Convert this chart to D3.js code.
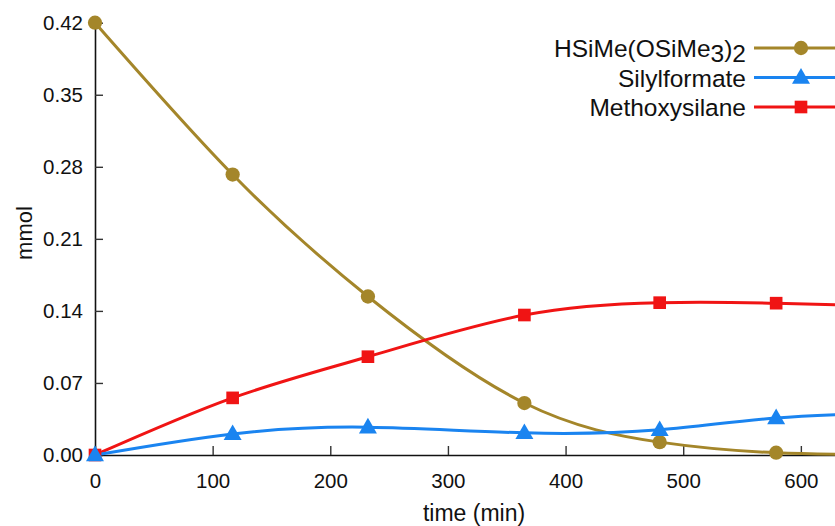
<!DOCTYPE html>
<html><head><meta charset="utf-8">
<script src="https://cdn.jsdelivr.net/npm/d3@7"></script>
<style>body{margin:0;background:#fff;overflow:hidden}svg{display:block}text{font-family:"Liberation Sans",Arial,sans-serif;fill:#111}</style>
</head><body><svg id="c" width="835" height="526"></svg>
<script>
const times = [0, 117, 232, 365, 480, 579, 700];
const hsime = [0.42, 0.2725, 0.154, 0.0505, 0.0125, 0.0022, 0.0];
const silylformate = [0.0, 0.0205, 0.027, 0.0215, 0.0245, 0.036, 0.042];
const methoxysilane = [0.0, 0.0555, 0.0955, 0.136, 0.148, 0.1475, 0.144];
const yTicks = [0, 0.07, 0.14, 0.21, 0.28, 0.35, 0.42];
const xTicks = [0, 100, 200, 300, 400, 500, 600];

const svg = d3.select("#c");
const x = d3.scaleLinear().domain([0, 700]).range([95, 918.5]);
const y = d3.scaleLinear().domain([0, 0.42]).range([455, 22.7]);

const series = [
  {name: "HSiMe(OSiMe3)2", vals: hsime, color: "#A4862A", shape: "circle"},
  {name: "Silylformate", vals: silylformate, color: "#1A84F0", shape: "triangle"},
  {name: "Methoxysilane", vals: methoxysilane, color: "#F01414", shape: "square"}
];

// axes
const yAxis = d3.axisLeft(y).tickValues(yTicks).tickSizeInner(-8).tickSizeOuter(0).tickPadding(12).tickFormat(d3.format(".2f"));
const gy = svg.append("g").attr("transform", "translate(95,0)").call(yAxis);
const xAxis = d3.axisBottom(x).tickValues(xTicks).tickSizeInner(-9).tickSizeOuter(0).tickPadding(18).tickFormat(d3.format("d"));
const gx = svg.append("g").attr("transform", "translate(0,455)").call(xAxis);
[gx, gy].forEach(g => {
  g.select(".domain").attr("stroke", "#111").attr("stroke-width", 1.6);
  g.selectAll(".tick line").attr("stroke", "#333").attr("stroke-width", 1.4);
  g.selectAll(".tick text").style("font-family", '"Liberation Sans",Arial,sans-serif').style("font-size", "20.5px").attr("fill", "#111");
});

svg.append("text").attr("x", 474).attr("y", 521).attr("text-anchor", "middle").style("font-size", "23px").text("time (min)");
svg.append("text").attr("transform", "translate(32,233) rotate(-90)").attr("text-anchor", "middle").style("font-size", "22px").text("mmol");

const line = d3.line().curve(d3.curveNatural);
const sym = {circle: d3.symbolCircle, triangle: d3.symbolTriangle, square: d3.symbolSquare};
const size = {circle: 160, triangle: 140, square: 160};

function marker(g, s, cx, cy) {
  g.append("path").attr("d", d3.symbol().type(sym[s.shape]).size(size[s.shape])())
   .attr("transform", `translate(${cx},${cy + (s.shape === "triangle" ? 1 : 0)})`).attr("fill", s.color);
}

// draw order: gold, red, blue
[series[0], series[2], series[1]].forEach(s => {
  const pts = times.map((t, i) => [x(t), y(s.vals[i])]);
  svg.append("path").attr("d", line(pts)).attr("fill", "none").attr("stroke", s.color).attr("stroke-width", 3);
});
[series[0], series[2], series[1]].forEach(s => {
  const g = svg.append("g");
  times.forEach((t, i) => marker(g, s, x(t), y(s.vals[i])));
});

// legend
const leg = svg.append("g");
series.forEach((s, i) => {
  const yy = 48 + i * 29.5;
  const t = leg.append("text").attr("x", 746).attr("y", yy + 9).attr("text-anchor", "end").style("font-size", "24.5px");
  if (i === 0) {
    t.append("tspan").text("HSiMe(OSiMe");
    t.append("tspan").text("3").attr("dy", 5);
    t.append("tspan").text(")").attr("dy", -5);
    t.append("tspan").text("2").attr("dy", 5);
  } else t.text(s.name);
  leg.append("line").attr("x1", 754).attr("x2", 850).attr("y1", yy).attr("y2", yy).attr("stroke", s.color).attr("stroke-width", 3);
  marker(leg, s, 801, yy);
});
</script></body></html>
